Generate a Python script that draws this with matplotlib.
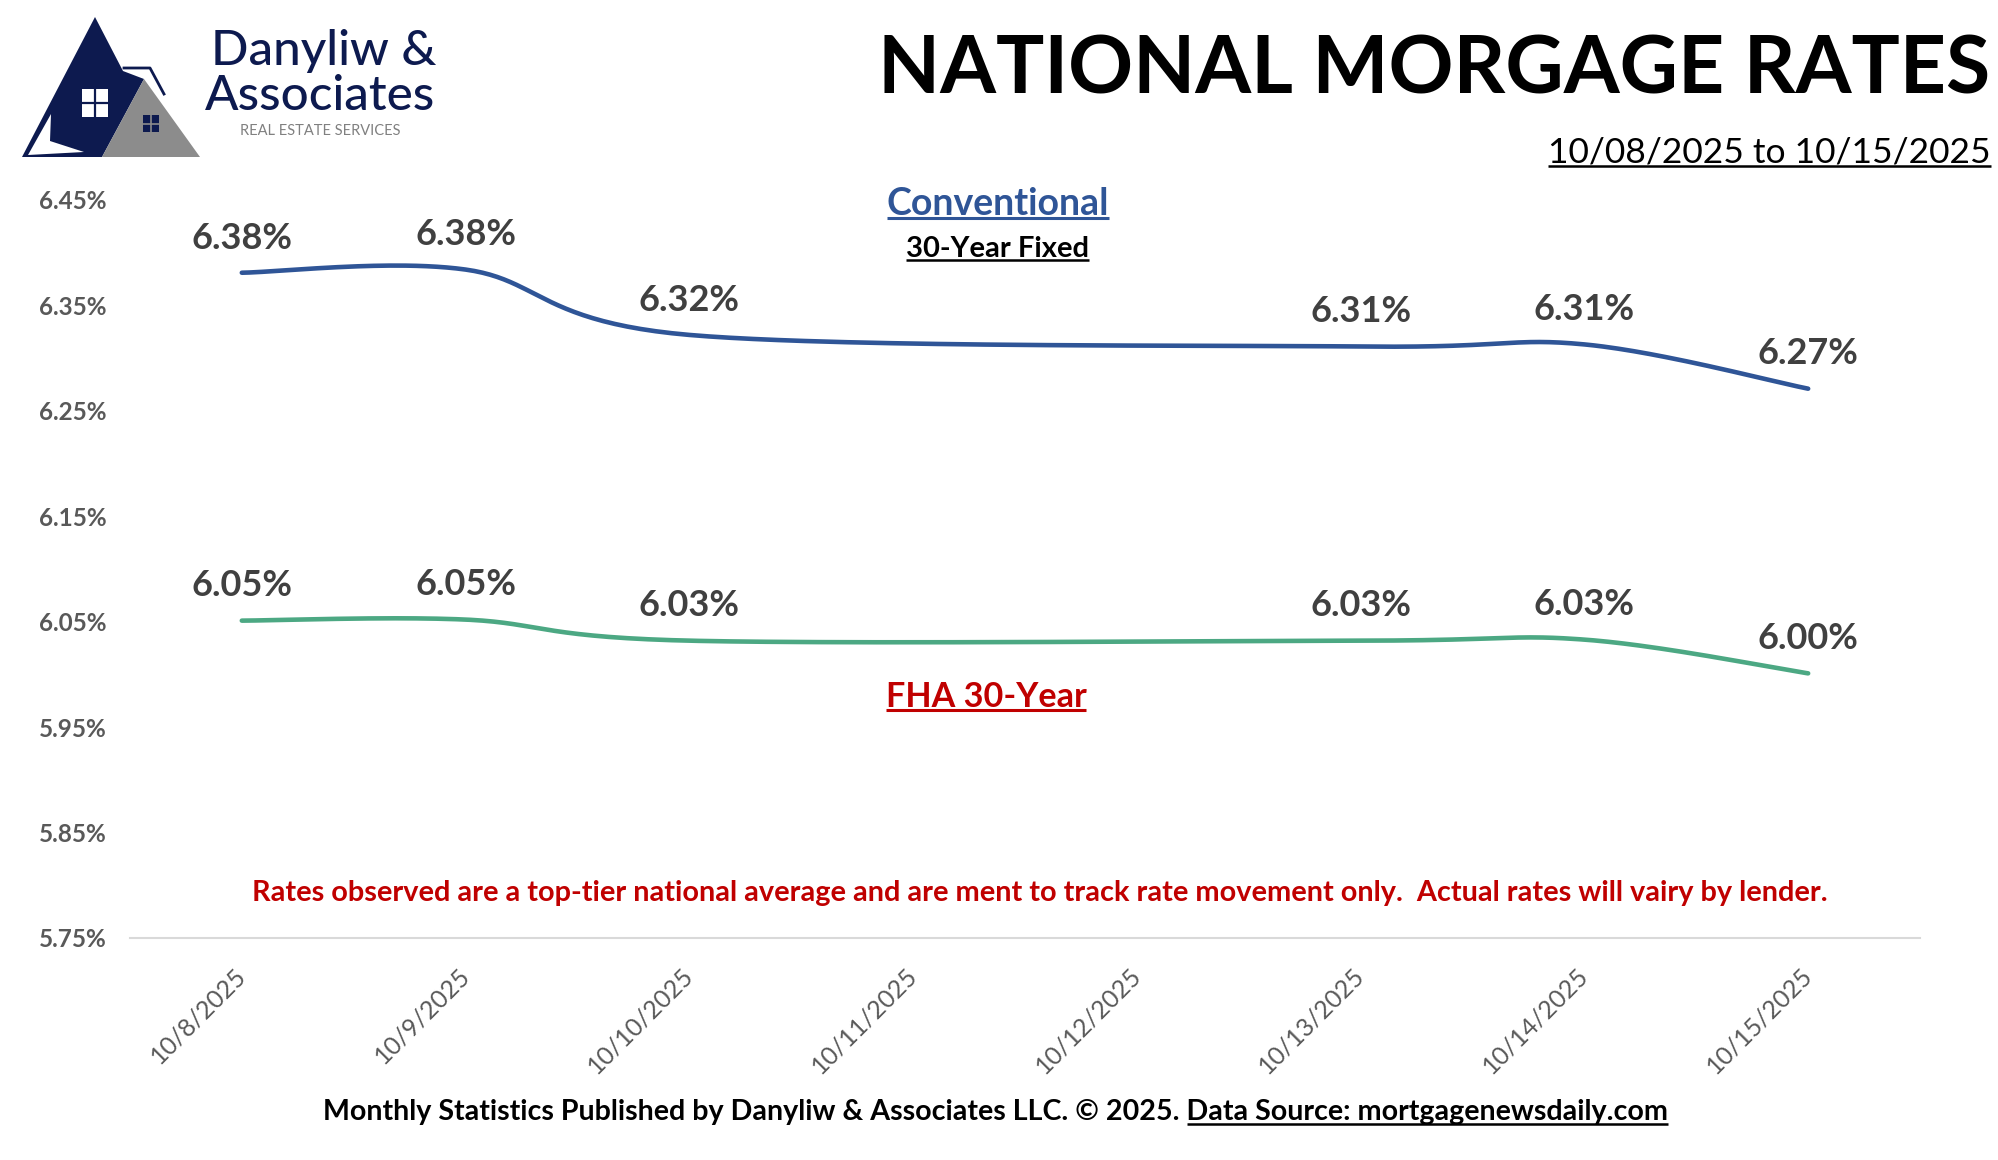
import matplotlib.pyplot as plt
from matplotlib.patches import Polygon, Rectangle
import numpy as np

plt.rcParams['font.family'] = ['Lato', 'DejaVu Sans']

# data
dates = ['10/8/2025', '10/9/2025', '10/10/2025', '10/11/2025',
         '10/12/2025', '10/13/2025', '10/14/2025', '10/15/2025']
conventional = [6.381, 6.384, 6.322, None, None, 6.311, 6.313, 6.271]
fha = [6.051, 6.052, 6.032, None, None, 6.032, 6.033, 6.001]
y_ticks = [5.75, 5.85, 5.95, 6.05, 6.15, 6.25, 6.35, 6.45]

NAVY = '#0D1A4F'
BLUE = '#2F5597'
GREEN = '#4CA883'
RED = '#C00000'
GRAY = '#595959'


def smooth(xs, ys, n=50):
    # excel style smoothed line (bezier through the points)
    pts = np.column_stack([xs, ys]).astype(float)
    out = []
    for i in range(len(pts) - 1):
        p0 = pts[max(i - 1, 0)]
        p1 = pts[i]
        p2 = pts[i + 1]
        p3 = pts[min(i + 2, len(pts) - 1)]
        c1 = p1 + (p2 - p0) / 6
        c2 = p2 - (p3 - p1) / 6
        t = np.linspace(0, 1, n)[:, None]
        seg = (1 - t)**3 * p1 + 3 * (1 - t)**2 * t * c1 + 3 * (1 - t) * t**2 * c2 + t**3 * p2
        out.append(seg if i == 0 else seg[1:])
    return np.vstack(out)


fig = plt.figure(figsize=(19.99, 11.6), dpi=100)
ax = fig.add_axes([0.065, 0.1914, 0.8955, 0.6362])

for vals, col in [(conventional, BLUE), (fha, GREEN)]:
    xs = [i for i, v in enumerate(vals) if v is not None]
    ys = [v for v in vals if v is not None]
    curve = smooth(xs, ys)
    ax.plot(curve[:, 0], curve[:, 1], color=col, linewidth=3.3, solid_capstyle='round', zorder=3)
    for x, y in zip(xs, ys):
        ax.annotate('%.2f%%' % y, (x, y), xytext=(0, 25), textcoords='offset points',
                    ha='center', va='center', fontsize=26, fontweight='bold', color='#404040')

ax.set_xlim(-0.5, 7.5)
ax.set_ylim(5.75, 6.45)
ax.set_xticks(range(len(dates)))
ax.set_xticklabels(dates, rotation=45, ha='right', va='center', rotation_mode='anchor',
                   fontsize=18, color=GRAY)
ax.set_yticks(y_ticks)
ax.set_yticklabels(['%.2f%%' % v for v in y_ticks], fontsize=17.5, fontweight='bold', color=GRAY)
ax.tick_params(axis='x', length=0, pad=24)
ax.tick_params(axis='y', length=0, pad=17)
for s in ['top', 'right', 'left']:
    ax.spines[s].set_visible(False)
ax.spines['bottom'].set_color('#D9D9D9')
ax.spines['bottom'].set_linewidth(1.5)
ax.patch.set_visible(False)

# overlay in pixel coords for logo and text
ov = fig.add_axes([0, 0, 1, 1], zorder=-1)
ov.set_xlim(0, 1999)
ov.set_ylim(1160, 0)
ov.axis('off')

# logo
ov.add_patch(Polygon([(95, 17), (22, 157), (102, 157), (144, 79), (123, 71)], closed=True, color=NAVY, lw=0))
ov.add_patch(Polygon([(144, 79), (102, 157), (200, 157)], closed=True, color='#8C8C8C', lw=0))
ov.plot([124, 150, 164], [68, 68, 94], color=NAVY, lw=2)
ov.add_patch(Polygon([(51, 114), (28, 155), (84, 152), (50, 141)], closed=True, color='white', lw=0))
ov.add_patch(Rectangle((82, 89), 26, 28, color='white', lw=0))
ov.plot([95, 95], [89, 117], color=NAVY, lw=1.6)
ov.plot([82, 108], [103, 103], color=NAVY, lw=1.6)
ov.add_patch(Rectangle((143, 115), 16, 17, color=NAVY, lw=0))
ov.plot([151, 151], [115, 132], color='#8C8C8C', lw=1.2)
ov.plot([143, 159], [123.5, 123.5], color='#8C8C8C', lw=1.2)
ov.text(324, 51, 'Danyliw &', ha='center', va='center', fontsize=35.5, color=NAVY, fontweight='medium')
ov.text(320, 96, 'Associates', ha='center', va='center', fontsize=35.5, color=NAVY, fontweight='medium')
ov.text(320, 131, 'REAL ESTATE SERVICES', ha='center', va='center', fontsize=10.5, color='#808080')

# titles
ov.text(1990, 70, 'NATIONAL MORGAGE RATES', ha='right', va='center', fontsize=58,
        fontweight='bold', color='black')
sub = ov.text(1991, 152, '10/08/2025 to 10/15/2025', ha='right', va='center', fontsize=25.5, color='black')
conv_t = ov.text(998, 204, 'Conventional', ha='center', va='center', fontsize=27,
                 fontweight='bold', color=BLUE)
fix_t = ov.text(998, 249, '30-Year Fixed', ha='center', va='center', fontsize=21,
                fontweight='bold', color='black')
fha_t = ov.text(986, 697, 'FHA 30-Year', ha='center', va='center', fontsize=24.6,
                fontweight='bold', color=RED)
ov.text(1040, 893, 'Rates observed are a top-tier national average and are ment to track rate movement only.  '
        'Actual rates will vairy by lender.', ha='center', va='center', fontsize=20.8,
        fontweight='bold', color=RED)
foot = ov.text(996, 1112, 'Monthly Statistics Published by Danyliw & Associates LLC. \u00a9 2025. '
               'Data Source: mortgagenewsdaily.com', ha='center', va='center', fontsize=20.6,
               fontweight='bold', color='black')

# underlines
fig.canvas.draw()
r = fig.canvas.get_renderer()
inv = ov.transData.inverted()


def underline(t, col, x0=None, lw=1.8, gap=3):
    bb = t.get_window_extent(r)
    (a, yb), (b, _) = inv.transform([[bb.x0, bb.y0], [bb.x1, bb.y1]])
    if x0 is not None:
        a = x0
    ov.plot([a, b], [yb - gap, yb - gap], color=col, lw=lw, solid_capstyle='butt')


underline(sub, 'black', lw=1.8, gap=2)
underline(conv_t, BLUE, lw=2.2, gap=3)
underline(fix_t, 'black', lw=1.8, gap=2)
underline(fha_t, RED, lw=2.2, gap=3)
tmp = ov.text(0, 0, 'Data Source: mortgagenewsdaily.com', fontsize=20.6, fontweight='bold')
w = tmp.get_window_extent(r).width
tmp.remove()
fb = foot.get_window_extent(r)
underline(foot, 'black', x0=inv.transform([[fb.x1 - w, 0]])[0, 0], lw=1.8, gap=1)

fig.savefig('out.png', dpi=100)
